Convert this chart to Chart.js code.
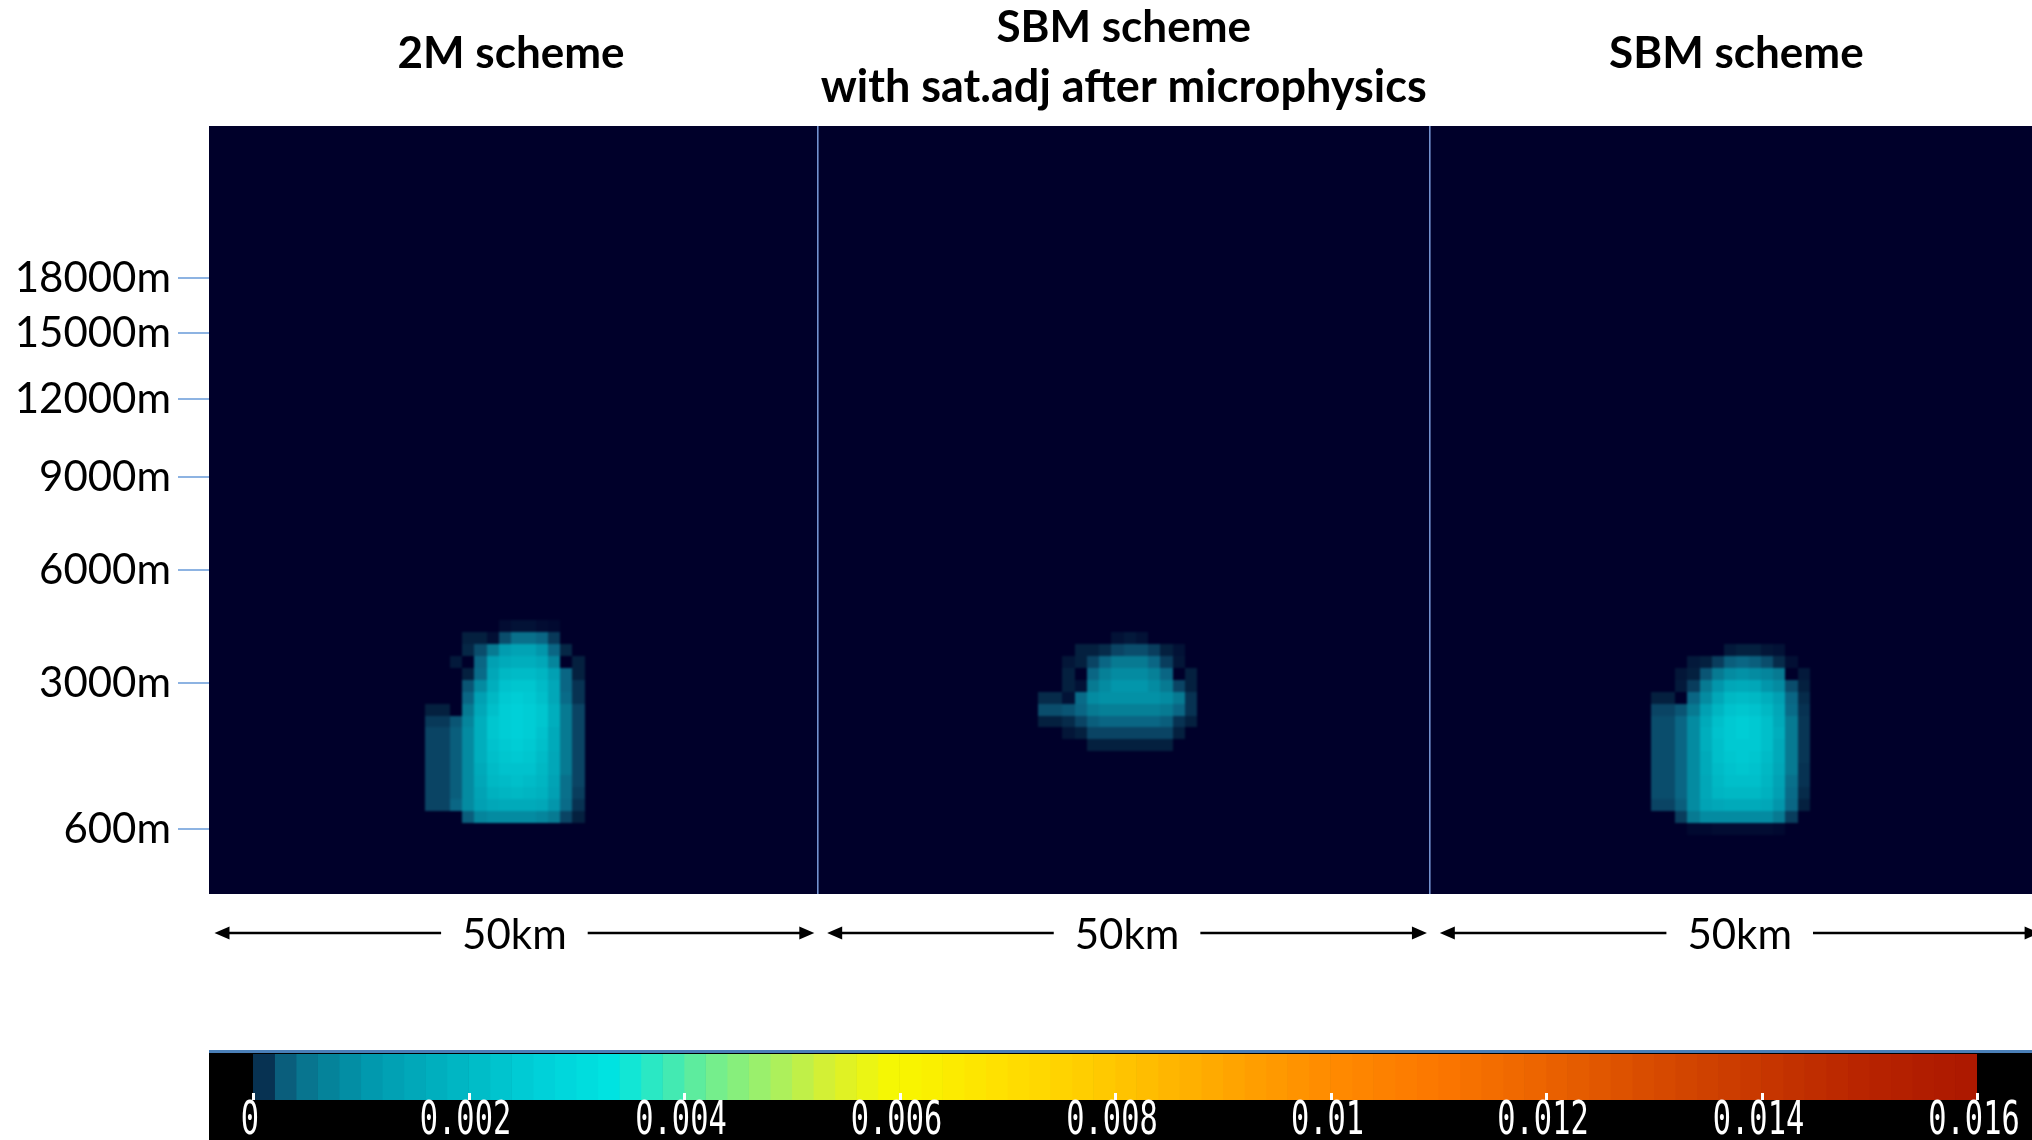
<!DOCTYPE html>
<html>
<head>
<meta charset="utf-8">
<script src="https://cdn.jsdelivr.net/npm/chart.js@4.4.1/dist/chart.umd.min.js"></script>
<style>
  html, body { margin: 0; padding: 0; background: #ffffff; width: 2032px; height: 1140px; overflow: hidden; }
  #mainWrap { position: absolute; left: 0; top: 0; width: 2032px; height: 1000px; }
  #barWrap { position: absolute; left: 209px; top: 1050px; width: 1823px; height: 90px; }
</style>
</head>
<body>
<div id="mainWrap"><canvas id="main"></canvas></div>
<div id="barWrap"><canvas id="bar"></canvas></div>
<script>
// ---- panels ----
const panelTitles = [
  ['2M scheme'],
  ['SBM scheme', 'with sat.adj after microphysics'],
  ['SBM scheme']
];
const panelWidthKm = 50;
const panelLabel = '50km';
const xMinKm = 0.35;
const xMaxKm = 149.13;

// ---- vertical axis (model level index) ----
const levelTop = 64.54;
const heightTickLabels = ['600m', '3000m', '6000m', '9000m', '12000m', '15000m', '18000m'];
const heightTickLevels = [5.46, 17.73, 27.23, 35.04, 41.6, 47.14, 51.76];

// ---- colour scale ----
const colorbarTicks = [0, 0.002, 0.004, 0.006, 0.008, 0.01, 0.012, 0.014, 0.016];
const colorbarTickLabels = ['0', '0.002', '0.004', '0.006', '0.008', '0.01', '0.012', '0.014', '0.016'];
const colorbarBandWidth = 0.0002;
const colorStops = [
  [0, '#00002a'], [0.00005, '#020f34'], [0.0001, '#04203f'], [0.0002, '#0a4464'],
  [0.0004, '#0a6684'], [0.0006, '#077a92'], [0.0012, '#019cb0'], [0.002, '#00b8c4'],
  [0.0027, '#00d0d8'], [0.0034, '#00e4e2'], [0.0038, '#30e8c0'], [0.0043, '#70ee90'],
  [0.0049, '#a8f060'], [0.0054, '#d8f030'], [0.006, '#f8f800'], [0.007, '#ffe000'],
  [0.008, '#ffc800'], [0.009, '#ffa800'], [0.01, '#ff8c00'], [0.011, '#fc7800'],
  [0.012, '#ec6400'], [0.013, '#d84c00'], [0.014, '#c83800'], [0.015, '#b82400'],
  [0.016, '#ac1800']
];

// ---- cloud water fields (rows listed top to bottom, columns = km within panel) ----
// 2M scheme: top row = level 22, first column = 18 km
const field2MTopLevel = 22, field2MFirstCol = 18;
const field2M = [
  [0,0,0,0,0,0,0.00004,0.00006,0.00006,0.00004,0.00003,0,0],
  [0,0,0,0.0001,0.0001,0.00005,0.00025,0.0005,0.0005,0.0004,0.00017,0,0],
  [0,0,0,0.00012,0.00025,0.0006,0.0012,0.0014,0.0014,0.0011,0.0004,0.00012,0],
  [0,0,0.00008,0,0.0004,0.0013,0.0016,0.0017,0.0017,0.0015,0.0008,0,0.0001],
  [0,0,0,0.0001,0.00045,0.0015,0.0020,0.0021,0.0021,0.0019,0.0013,0.0004,0.0001],
  [0,0,0,0.0003,0.0009,0.0017,0.0023,0.0024,0.0024,0.0021,0.0015,0.0004,0.00015],
  [0,0,0,0.0004,0.0013,0.0020,0.0025,0.0026,0.0025,0.0022,0.0015,0.00045,0.00015],
  [0.0001,0.0001,0,0.0006,0.0015,0.0022,0.0026,0.0027,0.0026,0.0024,0.0017,0.0006,0.0002],
  [0.00017,0.00017,0.0003,0.0008,0.0017,0.0024,0.0026,0.0027,0.0026,0.0024,0.0017,0.0006,0.0002],
  [0.0002,0.0002,0.00035,0.0009,0.0017,0.0024,0.0026,0.0027,0.0026,0.0023,0.0016,0.0006,0.0002],
  [0.0002,0.0002,0.00035,0.0009,0.0017,0.0023,0.0025,0.0026,0.0025,0.0022,0.0016,0.0006,0.0002],
  [0.0002,0.0002,0.00035,0.0009,0.0017,0.0022,0.0024,0.0025,0.0024,0.0021,0.0015,0.0006,0.0002],
  [0.0002,0.0002,0.00035,0.0009,0.0016,0.0021,0.0023,0.0023,0.0023,0.0020,0.0015,0.0006,0.0002],
  [0.0002,0.0002,0.00035,0.0009,0.0015,0.0020,0.0021,0.0022,0.0021,0.0019,0.0014,0.0005,0.0002],
  [0.0002,0.0002,0.00035,0.0009,0.0014,0.0018,0.0019,0.0020,0.0019,0.0018,0.0013,0.0005,0.00018],
  [0.0002,0.0002,0.0004,0.0009,0.0013,0.0015,0.0016,0.0016,0.0016,0.0015,0.0011,0.00045,0.00015],
  [0,0,0,0.00035,0.0008,0.0009,0.0009,0.0009,0.0009,0.0008,0.0006,0.0002,0.0001]
];

// SBM scheme with saturation adjustment after microphysics: top row = level 21
const fieldSatAdjTopLevel = 21, fieldSatAdjFirstCol = 18;
const fieldSatAdj = [
  [0,0,0,0,0,0,0.00006,0.00008,0.00006,0,0,0,0],
  [0,0,0,0.0001,0.0001,0.00013,0.0002,0.00025,0.00025,0.00018,0.0001,0.00006,0],
  [0,0,0.00007,0.0001,0.0002,0.0004,0.0006,0.0006,0.0006,0.0004,0.00018,0.00007,0],
  [0,0,0.0001,0,0.0004,0.0007,0.0009,0.0009,0.0009,0.0007,0.0004,0,0.0001],
  [0,0,0.0001,0.00006,0.0006,0.0009,0.0011,0.0011,0.0011,0.0009,0.0006,0.0002,0.0001],
  [0.00013,0.00013,0.00006,0.00045,0.0009,0.001,0.001,0.001,0.001,0.001,0.0009,0.0006,0.00015],
  [0.00025,0.00025,0.0003,0.0004,0.0006,0.0007,0.0007,0.0007,0.0007,0.0007,0.0006,0.0004,0.00015],
  [0.0001,0.0001,0.00013,0.0002,0.00035,0.0004,0.0004,0.0004,0.0004,0.0004,0.00035,0.00015,0.0001],
  [0,0,0.00007,0.0001,0.0002,0.0002,0.0002,0.0002,0.0002,0.0002,0.0002,0.0001,0],
  [0,0,0,0,0.0001,0.0001,0.0001,0.0001,0.0001,0.0001,0.0001,0,0]
];

// SBM scheme: top row = level 20
const fieldSBMTopLevel = 20, fieldSBMFirstCol = 18;
const fieldSBM = [
  [0,0,0,0,0,0,0.00008,0.0001,0.0001,0.00007,0.00006,0,0],
  [0,0,0,0.00008,0.0001,0.00018,0.00035,0.0004,0.00035,0.00025,0.00013,0.00005,0],
  [0,0,0.00007,0.0001,0.0003,0.0006,0.0009,0.001,0.0009,0.0008,0.0006,0,0.00008],
  [0,0,0.00008,0.00018,0.0006,0.0011,0.0015,0.0016,0.0015,0.0011,0.0009,0.00025,0.0001],
  [0.0001,0.0001,0,0.0004,0.0009,0.0015,0.002,0.0021,0.002,0.0017,0.0013,0.0004,0.00013],
  [0.0002,0.0002,0.0003,0.0006,0.0013,0.0019,0.0023,0.0024,0.0023,0.002,0.0015,0.00045,0.00015],
  [0.00025,0.00025,0.0004,0.0009,0.0016,0.0022,0.0025,0.0026,0.0025,0.0022,0.0016,0.0006,0.00016],
  [0.00025,0.00025,0.0004,0.0009,0.0017,0.0023,0.0025,0.0026,0.0025,0.0022,0.0017,0.0006,0.00016],
  [0.00025,0.00025,0.0004,0.0009,0.0017,0.0022,0.0025,0.0025,0.0025,0.0022,0.0016,0.0006,0.00016],
  [0.00025,0.00025,0.0004,0.0009,0.0016,0.0022,0.0024,0.0025,0.0024,0.0021,0.0016,0.0006,0.00016],
  [0.00025,0.00025,0.0004,0.0009,0.0016,0.0021,0.0023,0.0024,0.0023,0.002,0.0015,0.0006,0.00015],
  [0.00025,0.00025,0.0004,0.0009,0.0015,0.002,0.0022,0.0022,0.0022,0.0019,0.0014,0.0005,0.00015],
  [0.00025,0.00025,0.0004,0.0009,0.0015,0.0019,0.002,0.002,0.002,0.0018,0.0013,0.00045,0.00013],
  [0.0002,0.0002,0.00035,0.0009,0.0014,0.0015,0.0016,0.0016,0.0016,0.0015,0.0011,0.0004,0.0001],
  [0,0,0.00018,0.0006,0.0009,0.0009,0.0009,0.0009,0.0009,0.0009,0.0006,0.00018,0],
  [0,0,0,0.00003,0.00003,0.00004,0.00004,0.00004,0.00004,0.00004,0.00003,0,0]
];

// ---- helpers ----
function hexToRgb(h) {
  return [parseInt(h.slice(1, 3), 16), parseInt(h.slice(3, 5), 16), parseInt(h.slice(5, 7), 16)];
}
function colorAt(v) {
  if (v <= colorStops[0][0]) return colorStops[0][1];
  for (let i = 1; i < colorStops.length; i++) {
    const [v1, c1] = colorStops[i];
    if (v <= v1) {
      const [v0, c0] = colorStops[i - 1];
      const t = (v - v0) / (v1 - v0);
      const a = hexToRgb(c0), b = hexToRgb(c1);
      return 'rgb(' + a.map((x, k) => Math.round(x + (b[k] - x) * t)).join(',') + ')';
    }
  }
  return colorStops[colorStops.length - 1][1];
}
function toCells(field, panelIndex, topLevel, firstCol) {
  const cells = [];
  field.forEach((row, r) => row.forEach((v, c) => {
    if (v > 0) cells.push({ x: panelIndex * panelWidthKm + firstCol + c, y: topLevel - r, v: v });
  }));
  return cells;
}

// ---- plugins for the cross-section chart ----
const plotBackground = {
  id: 'plotBackground',
  beforeDraw(chart) {
    const { ctx, chartArea: a } = chart;
    ctx.save();
    ctx.fillStyle = colorStops[0][1];
    ctx.fillRect(a.left, a.top, a.right - a.left, a.bottom - a.top);
    ctx.restore();
  }
};

// grid cells are painted on a layer first, then composited with a light
// smoothing so the field looks like an upsampled model grid
const cellLayer = {
  id: 'cellLayer',
  afterDatasetsDraw(chart) {
    const { ctx, chartArea: a, scales: { x, y } } = chart;
    const layer = document.createElement('canvas');
    layer.width = chart.canvas.width;
    layer.height = chart.canvas.height;
    const lc = layer.getContext('2d');
    chart.data.datasets.forEach(ds => ds.data.forEach(p => {
      const l = Math.round(x.getPixelForValue(p.x));
      const r = Math.round(x.getPixelForValue(p.x + 1));
      const t = Math.round(y.getPixelForValue(p.y + 1));
      const b = Math.round(y.getPixelForValue(p.y));
      lc.fillStyle = colorAt(p.v);
      lc.fillRect(l, t, r - l, b - t);
    }));
    ctx.save();
    ctx.beginPath();
    ctx.rect(a.left, a.top, a.right - a.left, a.bottom - a.top);
    ctx.clip();
    ctx.filter = 'blur(1.3px)';
    ctx.drawImage(layer, 0, 0);
    ctx.restore();
  }
};

function arrowHead(ctx, tipX, y, dir) {
  ctx.beginPath();
  ctx.moveTo(tipX, y);
  ctx.lineTo(tipX - dir * 15, y - 6.5);
  ctx.lineTo(tipX - dir * 15, y + 6.5);
  ctx.closePath();
  ctx.fill();
}

const panelAnnotations = {
  id: 'panelAnnotations',
  afterDraw(chart) {
    const { ctx, scales: { x } } = chart;
    ctx.save();
    ctx.fillStyle = '#000000';
    ctx.strokeStyle = '#000000';
    ctx.textAlign = 'center';
    ctx.textBaseline = 'middle';
    // titles
    panelTitles.forEach((lines, p) => {
      const cx = x.getPixelForValue(p * panelWidthKm + panelWidthKm / 2);
      if (lines.length === 1) {
        ctx.font = 'bold 44px Lato';
        ctx.fillText(lines[0], cx, 54);
      } else {
        ctx.font = 'bold 44px Lato';
        ctx.fillText(lines[0], cx, 28);
        ctx.font = 'bold 45px Lato';
        ctx.fillText(lines[1], cx, 87);
      }
    });
    // width arrows
    ctx.font = '42px Lato';
    ctx.lineWidth = 2.6;
    const ay = 933;
    panelTitles.forEach((lines, p) => {
      const x0 = x.getPixelForValue(p * panelWidthKm + 0.8);
      const x1 = x.getPixelForValue((p + 1) * panelWidthKm - 0.25);
      const cx = (x0 + x1) / 2;
      const half = ctx.measureText(panelLabel).width / 2 + 21;
      ctx.beginPath();
      ctx.moveTo(x0 + 10, ay); ctx.lineTo(cx - half, ay);
      ctx.moveTo(cx + half, ay); ctx.lineTo(x1 - 10, ay);
      ctx.stroke();
      arrowHead(ctx, x0, ay, -1);
      arrowHead(ctx, x1, ay, 1);
      ctx.fillText(panelLabel, cx, ay + 2);
    });
    ctx.restore();
  }
};

new Chart(document.getElementById('main'), {
  type: 'scatter',
  data: {
    datasets: [
      { label: panelTitles[0].join(' '), data: toCells(field2M, 0, field2MTopLevel, field2MFirstCol), pointRadius: 0 },
      { label: panelTitles[1].join(' '), data: toCells(fieldSatAdj, 1, fieldSatAdjTopLevel, fieldSatAdjFirstCol), pointRadius: 0 },
      { label: panelTitles[2].join(' '), data: toCells(fieldSBM, 2, fieldSBMTopLevel, fieldSBMFirstCol), pointRadius: 0 }
    ]
  },
  options: {
    responsive: true,
    maintainAspectRatio: false,
    animation: false,
    events: [],
    layout: { padding: { top: 126, bottom: 106, left: 0, right: 0 } },
    plugins: { legend: { display: false }, tooltip: { enabled: false } },
    scales: {
      x: {
        type: 'linear', min: xMinKm, max: xMaxKm,
        afterBuildTicks: s => { s.ticks = [{ value: panelWidthKm }, { value: 2 * panelWidthKm }]; },
        afterFit: s => { s.height = 0; },
        ticks: { display: false },
        grid: { drawTicks: false, color: '#7391cf', lineWidth: 1.6 },
        border: { display: false }
      },
      y: {
        type: 'linear', min: 0, max: levelTop,
        afterBuildTicks: s => { s.ticks = heightTickLevels.map(v => ({ value: v })); },
        afterFit: s => { s.width = 209; },
        ticks: {
          autoSkip: false,
          padding: 7,
          color: '#000000',
          font: { family: 'Lato', size: 42 },
          callback: (v, i) => heightTickLabels[i]
        },
        grid: { drawOnChartArea: false, drawTicks: true, tickLength: 31, color: '#8db3e2', lineWidth: 2 },
        border: { display: false }
      }
    }
  },
  plugins: [plotBackground, cellLayer, panelAnnotations]
});

// ---- colour bar ----
const bandDatasets = [];
for (let v = 0; v < colorbarTicks[colorbarTicks.length - 1] - 1e-9; v += colorbarBandWidth) {
  bandDatasets.push({
    data: [colorbarBandWidth],
    backgroundColor: colorAt(v + colorbarBandWidth * 0.75),
    borderWidth: 0,
    barPercentage: 1,
    categoryPercentage: 1
  });
}

const colorbarFrame = {
  id: 'colorbarFrame',
  beforeDraw(chart) {
    const { ctx, width, height } = chart;
    ctx.save();
    ctx.fillStyle = '#000000';
    ctx.fillRect(0, 0, width, height);
    ctx.fillStyle = '#4a7fb8';
    ctx.fillRect(0, 0, width, 3);
    ctx.restore();
  },
  afterDraw(chart) {
    const { ctx, chartArea: a, scales: { x } } = chart;
    ctx.save();
    ctx.fillStyle = '#ffffff';
    ctx.textAlign = 'center';
    ctx.textBaseline = 'middle';
    ctx.font = '46px "DejaVu Sans Mono"';
    colorbarTicks.forEach((t, i) => {
      const px = x.getPixelForValue(t);
      ctx.fillRect(Math.round(px) - 1, a.bottom - 7, 3, 7);
      ctx.save();
      ctx.translate(px - 3, 72);
      ctx.scale(0.66, 1);
      ctx.fillText(colorbarTickLabels[i], 0, 0);
      ctx.restore();
    });
    ctx.restore();
  }
};

new Chart(document.getElementById('bar'), {
  type: 'bar',
  data: { labels: ['colour scale'], datasets: bandDatasets },
  options: {
    indexAxis: 'y',
    responsive: true,
    maintainAspectRatio: false,
    animation: false,
    events: [],
    layout: { padding: { left: 44, right: 55, top: 4, bottom: 40 } },
    plugins: { legend: { display: false }, tooltip: { enabled: false } },
    scales: {
      x: { type: 'linear', stacked: true, min: 0, max: colorbarTicks[colorbarTicks.length - 1], display: false },
      y: { stacked: true, display: false }
    }
  },
  plugins: [colorbarFrame]
});
</script>
</body>
</html>
